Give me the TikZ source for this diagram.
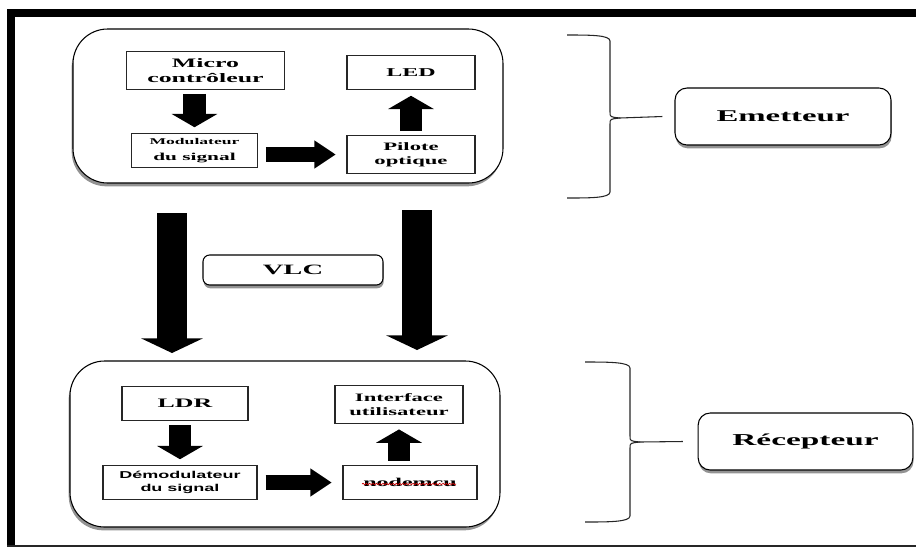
\documentclass[tikz,border=0pt]{standalone}
\usepackage{fontspec}
\usetikzlibrary{arrows.meta,shadows,decorations.pathmorphing}
\newfontfamily\serifwide{Liberation Serif}[FakeStretch=2]
\newfontfamily\sanswide{Liberation Sans}[FakeStretch=1.8]

\begin{document}
\begin{tikzpicture}[x=0.75pt,y=0.75pt,yscale=-1,xscale=1,
            box/.style={draw=black!85, line width=0.9pt, fill=white, align=center, inner sep=1pt, font=\serifwide\bfseries},
            group/.style={draw, line width=0.8pt, fill=white, rounded corners=26pt, drop shadow={shadow xshift=-1pt, shadow yshift=-2.5pt, opacity=0.85}},
            tag/.style={draw, line width=0.8pt, fill=white, rounded corners=9pt, font=\serifwide\bfseries, drop shadow={shadow xshift=0.5pt, shadow yshift=-2.5pt, opacity=0.85}},
            vblock/.style={line width=17pt, -{Triangle[width=34pt,length=10pt]}, shorten <=3pt, shorten >=4pt},
            hblock/.style={line width=11pt, -{Triangle[width=20pt,length=16pt]}, shorten <=6pt, shorten >=8pt},
            vlcblock/.style={line width=22.5pt, -{Triangle[width=46pt,length=11pt]}},
            brace/.style={line width=0.8pt, black!85}]
            \useasboundingbox (0,0) rectangle (916,547);
            %frame
            \fill (7,9) rectangle (916,17);
            \fill (7,9) rectangle (15,546);
            \draw [line width=1.2pt, black!85] (7,546) -- (916,546);
            %
            %emetteur
            \node [group, minimum width=322.5pt, minimum height=115.5pt] (emgroup) at (288,106) {};
            \node [box, minimum width=119pt, minimum height=28pt, font=\serifwide\bfseries\fontsize{9.7}{11}\selectfont] (mc) at (205.5,70.5) {Micro\\contrôleur};
            \node [box, minimum width=96pt, minimum height=26pt, font=\serifwide\bfseries\fontsize{9}{11}\selectfont] (led) at (411,72.5) {LED};
            \node [box, minimum width=94pt, minimum height=26pt] (mod) at (194.5,150.5) {{\fontsize{6.6}{8}\selectfont Modulateur}\\{\fontsize{8}{10}\selectfont du signal}};
            \node [box, minimum width=96pt, minimum height=28pt, font=\serifwide\bfseries\fontsize{8.5}{10.5}\selectfont] (pil) at (411,154.5) {Pilote\\optique};
            \draw [vblock] (mc.south -| mod.north) -- (mod.north);
            \draw [hblock] (mod.east |- pil.west) -- (pil.west);
            \draw [vblock] (pil.north) -- (led.south);
            %
            %VLC
            \coordinate (vla) at (172,213);
            \coordinate (vlb) at (172,353);
            \coordinate (vra) at (417,210);
            \coordinate (vrb) at (417,350);
            \draw [vlcblock] (vla) -- (vlb);
            \draw [vlcblock] (vra) -- (vrb);
            \node [tag, minimum width=135pt, minimum height=22.5pt, rounded corners=5pt, font=\serifwide\bfseries\fontsize{10.7}{12}\selectfont] (vlc) at (293,270) {VLC};
            %
            %recepteur
            \node [group, minimum width=322.5pt, minimum height=124.5pt] (rcgroup) at (285,444) {};
            \node [box, minimum width=94.5pt, minimum height=26pt, font=\serifwide\bfseries\fontsize{9.7}{11}\selectfont] (ldr) at (185,403.5) {LDR};
            \node [box, minimum width=115.5pt, minimum height=26pt, font=\sanswide\bfseries\fontsize{7.5}{10}\selectfont] (dem) at (180,482.5) {Démodulateur\\du signal};
            \node [box, minimum width=96pt, minimum height=28.5pt, font=\serifwide\bfseries\fontsize{8.5}{10}\selectfont] (iu) at (399,404.5) {Interface\\utilisateur};
            \node [box, minimum width=100.5pt, minimum height=26pt, font=\serifwide\bfseries\fontsize{9}{11}\selectfont] (nm) at (410,482.5) {nodemcu};
            \draw [red!80!black, line width=0.5pt, decorate, decoration={snake, amplitude=0.6pt, segment length=2.5pt}] (362,484) -- (456,484);
            \draw [vblock] (ldr.south -| dem.north) -- (dem.north);
            \draw [hblock] (dem.east) -- (nm.west);
            \draw [vblock] (nm.north -| iu.south) -- (iu.south);
            %
            %accolades
            \node [tag, minimum width=162pt, minimum height=42.75pt, font=\serifwide\bfseries\fontsize{12.3}{14}\selectfont] (emet) at (783,116.5) {Emetteur};
            \node [tag, minimum width=161pt, minimum height=42.75pt, font=\serifwide\bfseries\fontsize{12.5}{14}\selectfont] (recep) at (805.5,441.5) {Récepteur};
            \draw [brace] (567,35) .. controls (590,35) and (610,35) .. (610,41) -- (610,112) .. controls (610,117) .. (620,118) coordinate (ea);
            \draw [brace] (ea) .. controls (610,119) .. (610,124) -- (610,192) .. controls (610,198) and (590,198) .. (567,198);
            \draw [brace] (ea) -- ([xshift=-9pt]emet.west);
            \draw [brace] (585,362) .. controls (608,362) and (630,362) .. (630,368) -- (630,436) .. controls (630,441) .. (640,442) coordinate (ra);
            \draw [brace] (ra) .. controls (630,443) .. (630,448) -- (630,516) .. controls (630,522) and (608,522) .. (585,522);
            \draw [brace] (ra) -- ([xshift=-11pt]recep.west);
            %
        \end{tikzpicture}
\end{document}
